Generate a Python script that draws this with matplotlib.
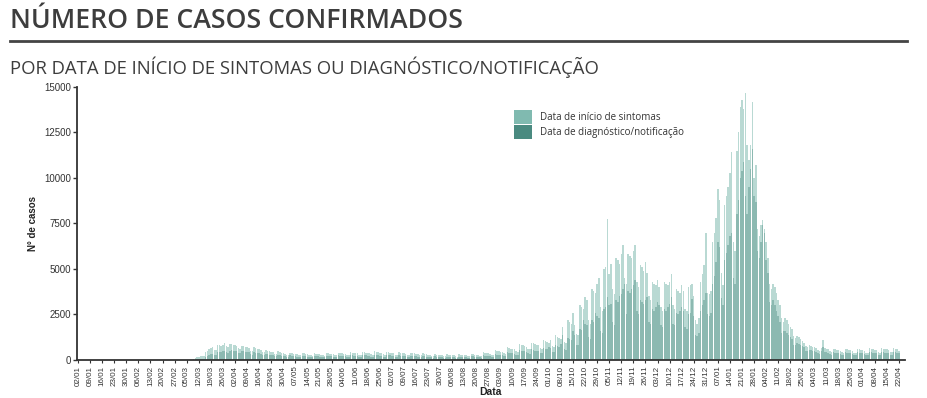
import matplotlib.pyplot as plt
import matplotlib.dates as mdates
from matplotlib.patches import Patch
import pandas as pd

plt.rcParams['font.family'] = ['Liberation Sans', 'DejaVu Sans']

# daily values from 02/03/2020, one row per week (Mon..Sun)
sintomas = [
    2, 4, 6, 10, 14, 20, 25,
    60, 95, 140, 180, 230, 210, 240,
    430, 520, 590, 640, 690, 560, 540,
    800, 830, 790, 840, 910, 760, 720,
    880, 860, 820, 800, 780, 640, 610,
    790, 760, 720, 700, 660, 520, 480,
    700, 660, 610, 580, 540, 440, 420,
    560, 520, 480, 460, 430, 350, 330,
    470, 440, 400, 380, 350, 290, 280,
    410, 380, 350, 330, 320, 260, 250,
    380, 360, 340, 320, 300, 250, 240,
    370, 350, 330, 320, 300, 250, 240,
    390, 360, 350, 330, 320, 260, 250,
    410, 390, 370, 350, 340, 280, 270,
    440, 410, 390, 370, 360, 300, 280,
    460, 430, 410, 390, 380, 310, 290,
    470, 440, 420, 400, 390, 320, 300,
    450, 420, 400, 390, 370, 300, 290,
    430, 400, 380, 360, 350, 290, 270,
    400, 380, 360, 340, 320, 260, 250,
    360, 330, 310, 300, 280, 230, 220,
    330, 300, 290, 270, 260, 210, 200,
    310, 290, 270, 260, 250, 200, 190,
    320, 290, 280, 260, 250, 210, 200,
    350, 320, 300, 290, 280, 230, 220,
    430, 400, 380, 360, 350, 290, 280,
    540, 500, 470, 450, 430, 360, 340,
    720, 670, 630, 600, 580, 480, 450,
    900, 850, 800, 780, 740, 600, 580,
    960, 910, 870, 840, 800, 650, 620,
    1080, 1020, 980, 950, 1100, 760, 720,
    1350, 1280, 1220, 1180, 1800, 980, 930,
    2200, 2100, 2000, 2580, 1900, 1450, 1350,
    3000, 2900, 2800, 3450, 3300, 2200, 2000,
    3900, 3800, 3700, 4200, 4500, 2900, 2700,
    5000, 5100, 7740, 4700, 5300, 3900, 3600,
    5600, 5500, 5300, 5800, 6300, 4500, 4200,
    5800, 5700, 5600, 6000, 6300, 4300, 4000,
    5200, 5100, 4900, 5400, 4800, 3500, 3300,
    4300, 4200, 4100, 4400, 4000, 2900, 2700,
    4300, 4200, 4100, 4300, 4750, 3000, 2800,
    3900, 3800, 3700, 4100, 3800, 2800, 2700,
    4000, 4100, 4200, 3500, 2200, 2000, 2300,
    4300, 4700, 5200, 7000, 3700, 3600, 3800,
    6500, 7000, 7800, 9400, 8800, 4800, 4100,
    8500, 9000, 9500, 10300, 11400, 6500, 6000,
    11500, 12500, 13900, 14300, 13800, 14650, 11800,
    11000, 11800, 14150, 10000, 10700, 7200, 6800,
    7400, 7700, 7200, 6500, 5600, 4200, 3900,
    4200, 4000, 3700, 3300, 3000, 2300, 2100,
    2300, 2200, 2000, 1800, 1700, 1300, 1200,
    1300, 1250, 1150, 1050, 950, 750, 700,
    800, 760, 720, 700, 680, 540, 520,
    680, 1100, 640, 600, 580, 470, 450,
    620, 600, 560, 540, 520, 420, 400,
    600, 580, 550, 530, 510, 410, 400,
    620, 600, 560, 540, 500, 400, 380,
    640, 620, 590, 560, 540, 430, 410,
    650, 620, 600, 580, 550, 440, 420,
    640, 610, 580, 520,
]

notificacao = [
    0, 2, 3, 5, 8, 10, 12,
    20, 30, 40, 60, 80, 70, 80,
    180, 230, 280, 320, 350, 300, 280,
    420, 450, 440, 470, 500, 420, 400,
    520, 540, 520, 500, 480, 380, 360,
    500, 480, 450, 440, 420, 330, 300,
    430, 410, 380, 360, 340, 270, 250,
    340, 320, 300, 280, 260, 210, 200,
    280, 260, 240, 230, 210, 180, 170,
    250, 230, 210, 200, 190, 160, 150,
    230, 220, 200, 190, 180, 150, 140,
    220, 210, 200, 190, 180, 150, 140,
    230, 220, 210, 200, 190, 160, 150,
    250, 240, 220, 210, 200, 170, 160,
    270, 250, 240, 220, 210, 180, 170,
    280, 260, 250, 240, 230, 190, 180,
    290, 270, 260, 240, 230, 190, 180,
    280, 260, 250, 240, 220, 180, 170,
    260, 240, 230, 220, 210, 170, 160,
    240, 230, 220, 210, 190, 160, 150,
    220, 200, 190, 180, 170, 140, 130,
    200, 190, 180, 170, 160, 130, 120,
    190, 180, 170, 160, 150, 120, 110,
    190, 180, 170, 160, 150, 130, 120,
    210, 200, 190, 180, 170, 140, 130,
    260, 240, 230, 220, 210, 170, 160,
    330, 300, 290, 270, 260, 220, 200,
    430, 400, 380, 360, 350, 290, 270,
    540, 510, 480, 470, 450, 360, 350,
    580, 550, 520, 500, 480, 390, 370,
    650, 620, 600, 700, 680, 460, 430,
    800, 760, 740, 900, 1400, 600, 560,
    1200, 1150, 1100, 1600, 1400, 850, 800,
    1700, 1650, 2200, 2000, 1900, 1250, 1150,
    2200, 2100, 2600, 2400, 2300, 1600, 1500,
    2800, 2900, 3450, 3000, 3100, 2100, 1900,
    3300, 3200, 3500, 3600, 3900, 4200, 2500,
    3800, 3700, 3900, 4100, 4400, 2700, 2500,
    3300, 3200, 3100, 3300, 3450, 2100, 2000,
    2800, 2700, 2900, 3200, 3000, 1900, 1800,
    2800, 2700, 2900, 3100, 3450, 2000, 1900,
    2600, 2500, 2700, 2900, 2700, 1800, 1700,
    2500, 2600, 3350, 2400, 1400, 1300, 1500,
    2700, 3000, 3300, 3700, 2500, 2400, 2600,
    4200, 4600, 5400, 6500, 6200, 3400, 3000,
    5500, 5900, 6300, 6800, 7000, 4500, 4200,
    8000, 8800, 10000, 10400, 10900, 9000, 8000,
    9500, 10500, 11600, 9000, 8700, 6000, 5600,
    6500, 7400, 7000, 5500, 4800, 3200, 3000,
    3300, 3000, 2700, 2400, 2100, 1500, 1600,
    1600, 1500, 1400, 1250, 1150, 850, 800,
    950, 900, 850, 780, 700, 520, 480,
    560, 530, 500, 480, 460, 360, 340,
    480, 700, 440, 420, 400, 320, 300,
    430, 410, 380, 370, 350, 280, 270,
    420, 400, 380, 360, 350, 280, 270,
    430, 410, 380, 370, 340, 270, 260,
    450, 430, 400, 380, 370, 290, 280,
    460, 430, 410, 400, 380, 300, 290,
    450, 420, 400, 360,
]

dias = pd.date_range('2020-03-02', periods=len(sintomas), freq='D')
semanas = pd.date_range('2020-01-02', '2021-04-22', freq='7D')

cor_sint = '#80bab0'
cor_diag = '#4a8a80'

fig = plt.figure(figsize=(9.28, 3.98), dpi=100)

fig.text(0.011, 0.948, 'NÚMERO DE CASOS CONFIRMADOS', family='Open Sans',
         fontweight='semibold', fontsize=19.2, color='#3d3d3d', va='center', ha='left')
fig.add_artist(plt.Line2D([0.011, 0.977], [0.897, 0.897], color='#444444', lw=2))
fig.text(0.011, 0.83, 'POR DATA DE INÍCIO DE SINTOMAS OU DIAGNÓSTICO/NOTIFICAÇÃO',
         family='Open Sans', fontsize=13.3, color='#3d3d3d', va='center', ha='left')

ax = fig.add_axes([0.083, 0.0955, 0.892, 0.686])
x = mdates.date2num(dias)
ax.bar(x, sintomas, width=0.85, color=cor_sint, alpha=0.55, linewidth=0)
ax.bar(x, notificacao, width=0.85, color=cor_diag, alpha=0.4, linewidth=0)

x0 = mdates.date2num(pd.Timestamp('2020-01-02'))
ax.set_xlim(x0 - 0.6, x0 + 479.4)
ax.set_ylim(0, 15000)
ax.set_yticks(range(0, 15001, 2500))
ax.set_xticks(mdates.date2num(semanas))
ax.set_xticklabels([d.strftime('%d/%m') for d in semanas], rotation=90, fontsize=5.8)
ax.tick_params(axis='y', labelsize=7, length=3, width=1, colors='#333333', pad=1.5)
ax.tick_params(axis='x', length=2.5, width=0.8, colors='#333333', pad=1.5)

for s in ['top', 'right']:
    ax.spines[s].set_visible(False)
for s in ['left', 'bottom']:
    ax.spines[s].set_color('#333333')
    ax.spines[s].set_linewidth(1.3)

ax.set_xlabel('Data', fontsize=7.5, fontweight='bold', labelpad=1, color='#222222')
ax.set_ylabel('N° de casos', fontsize=7, fontweight='bold', labelpad=4, color='#222222')

handles = [Patch(facecolor=cor_sint, label='Data de início de sintomas'),
           Patch(facecolor=cor_diag, label='Data de diagnóstico/notificação')]
ax.legend(handles=handles, loc='upper left', bbox_to_anchor=(0.523, 0.93),
          frameon=False, handlelength=1.9, handleheight=1.9,
          labelspacing=0.05, handletextpad=0.8, borderaxespad=0,
          labelcolor='#333333', prop={'family': 'Open Sans', 'size': 7})

fig.savefig('out.png', dpi=100)
